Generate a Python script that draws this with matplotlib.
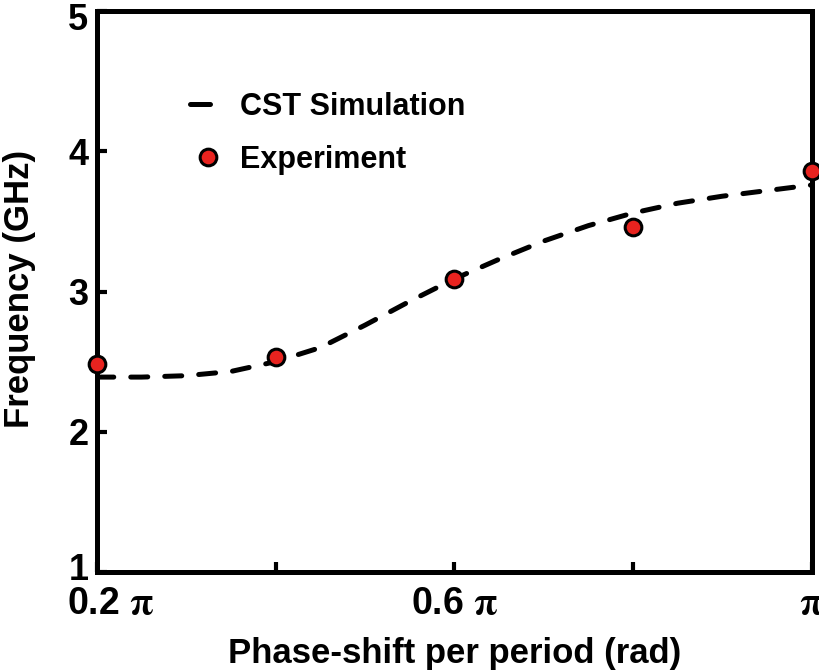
import matplotlib.pyplot as plt
import matplotlib.transforms as mtransforms
from matplotlib.lines import Line2D

plt.rcParams['font.family'] = ['Liberation Sans', 'DejaVu Sans']
plt.rcParams['font.weight'] = 'bold'
plt.rcParams['mathtext.fontset'] = 'stix'

# phase shift in units of pi
sim_phase = [0.20, 0.25, 0.30, 0.35, 0.40, 0.45, 0.50, 0.55, 0.60,
             0.65, 0.70, 0.75, 0.80, 0.85, 0.90, 0.95, 1.00]
sim_freq = [2.39, 2.39, 2.40, 2.43, 2.50, 2.60, 2.76, 2.93, 3.09,
            3.23, 3.36, 3.47, 3.56, 3.63, 3.68, 3.72, 3.76]

exp_phase = [0.2, 0.4, 0.6, 0.8, 1.0]
exp_freq = [2.48, 2.53, 3.09, 3.46, 3.86]

xticks = [0.2, 0.4, 0.6, 0.8, 1.0]
xtick_labels = [r'0.2 $\mathbf{\pi}$', '', r'0.6 $\mathbf{\pi}$', '', r'$\mathbf{\pi}$']
yticks = [1, 2, 3, 4, 5]

fig = plt.figure(figsize=(8.2, 6.71), dpi=100)
ax = fig.add_axes([0.118, 0.1475, 0.872, 0.836])

ax.plot(sim_phase, sim_freq, color='black', lw=3.6, linestyle=(0, (3.4, 3.4)),
        dash_capstyle='round')
ax.plot(exp_phase, exp_freq, 'o', color='#e8231f', markeredgecolor='black',
        markersize=12, markeredgewidth=2.2, clip_on=False, zorder=5)

ax.set_xlim(0.2, 1.0)
ax.set_ylim(1, 5)
ax.set_xticks(xticks)
ax.set_xticklabels(xtick_labels)
ax.set_yticks(yticks)

for s in ax.spines.values():
    s.set_linewidth(3.6)
ax.tick_params(direction='in', length=7, width=3)
ax.tick_params(axis='x', pad=10, labelsize=27)
ax.tick_params(axis='y', pad=6, labelsize=26)

# nudge the end labels inward, like the original figure
def shift(lbl, dx, dy):
    lbl.set_transform(lbl.get_transform() +
                      mtransforms.ScaledTranslation(dx / 100, dy / 100, fig.dpi_scale_trans))

shift(ax.get_xticklabels()[0], 14, 0)
shift(ax.get_yticklabels()[-1], 0, -5)
shift(ax.get_yticklabels()[0], 0, 6)

ax.set_xlabel('Phase-shift per period (rad)', fontsize=25, fontweight='bold')
ax.set_ylabel('Frequency (GHz)', fontsize=25, fontweight='bold')
ax.xaxis.set_label_coords(0.5, -0.115)
ax.yaxis.set_label_coords(-0.085, 0.504)

# legend handles: a single dash for the simulation line
h_sim = Line2D([], [], color='black', lw=3.6, linestyle=(0, (4.0, 20)),
               dash_capstyle='round')
h_exp = Line2D([], [], marker='o', linestyle='none', color='#e8231f',
               markeredgecolor='black', markersize=12, markeredgewidth=2.2)
ax.legend([h_sim, h_exp], ['CST Simulation', 'Experiment'],
          loc='upper left', bbox_to_anchor=(0.092, 0.905), frameon=False,
          fontsize=22, handlelength=1.18, handletextpad=0.45, labelspacing=0.76)

fig.savefig('out.png', dpi=100)
